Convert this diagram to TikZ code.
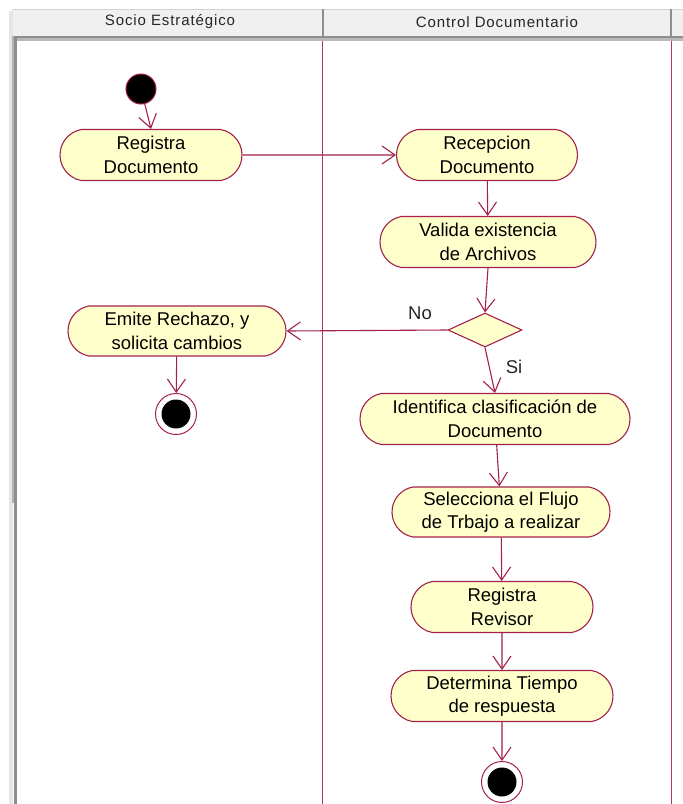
\documentclass[tikz,border=0pt]{standalone}
\usepackage{fontspec}
\setmainfont{Liberation Sans}
\usetikzlibrary{arrows.meta,shapes.geometric,shapes.misc}
\definecolor{umlline}{HTML}{A3214A}
\definecolor{laneline}{HTML}{B5336A}
\definecolor{actfill}{HTML}{FFFFCC}
\definecolor{hdrfill}{HTML}{F0F0F0}
\definecolor{hdrrule}{HTML}{8E8E8E}

\begin{document}
\begin{tikzpicture}[x=1pt,y=-1pt,
  activity/.style={rounded rectangle, rounded rectangle arc length=160,
    draw=umlline, fill=actfill, line width=1.1pt,
    align=center, inner sep=0pt,
    font=\fontsize{18.5}{23.5}\selectfont},
  decision/.style={diamond, draw=umlline, fill=actfill, line width=1.1pt,
    inner sep=0pt, minimum width=74pt, minimum height=34pt},
  startnode/.style={circle, draw=umlline, fill=black, line width=1pt,
    inner sep=0pt, minimum size=30pt},
  endnode/.style={circle, draw=umlline, fill=white, line width=1pt,
    inner sep=0pt, minimum size=41pt,
    path picture={\fill[black] (path picture bounding box.center) circle (14.5pt);}},
  flow/.style={draw=umlline, line width=1.1pt,
    -{Straight Barb[length=13pt,width=18pt]}},
  guard/.style={font=\fontsize{18.5}{22}\selectfont, text=black!85},
  lanehead/.style={font=\fontsize{15}{17}\selectfont\addfontfeature{LetterSpace=6}, text=black!85},
]
% canvas
\useasboundingbox (0,0) rectangle (683,804);
\fill[white] (0,0) rectangle (683,804);

% swimlane header
\fill[hdrfill] (12,9) rectangle (683,36);
\draw[gray!35, line width=0.8pt] (12,9.4) -- (683,9.4);
\fill[hdrrule] (12,35.5) rectangle (683,38);
\fill[gray!55] (12,38) rectangle (683,40.5);
\fill[hdrrule] (321.5,9) rectangle (323.8,36);
\fill[hdrrule] (670,9) rectangle (672.3,36);
\node[lanehead] (laneA) at (170,22) {Socio Estratégico};
\node[lanehead] (laneB) at (497,22) {Control Documentario};

% left frame
\fill[gray!20] (9,11) rectangle (12.5,804);
\fill[gray!60] (12,36) rectangle (14,503);
\fill[hdrrule] (14,36) rectangle (16.8,804);

% lane separators
\draw[laneline, line width=1.6pt] (322.6,40.5) -- (322.6,804);
\draw[laneline, line width=1.6pt] (671.4,40.5) -- (671.4,804);

% activity nodes
\node[startnode] (start) at (141,89) {};
\node[activity, minimum width=182pt, minimum height=51pt] (regdoc) at (151,155) {Registra\\Documento};
\node[activity, minimum width=181pt, minimum height=51pt] (recdoc) at (487,155) {Recepcion\\Documento};
\node[activity, minimum width=216pt, minimum height=51pt] (valida) at (488,242) {Valida existencia\\de Archivos};
\node[decision] (dec) at (485,330) {};
\node[activity, minimum width=218pt, minimum height=50pt] (emite) at (177,331) {Emite Rechazo, y\\solicita cambios};
\node[endnode] (endA) at (176,414) {};
\node[activity, minimum width=270pt, minimum height=51pt] (ident) at (495,419) {Identifica clasificación de\\Documento};
\node[activity, minimum width=218pt, minimum height=50pt] (selec) at (501,512) {Selecciona el Flujo\\de Trbajo a realizar};
\node[activity, minimum width=182pt, minimum height=51pt] (regrev) at (502,607) {Registra\\Revisor};
\node[activity, minimum width=222pt, minimum height=51pt] (determ) at (502,696) {Determina Tiempo\\de respuesta};
\node[endnode] (endB) at (502,782) {};

% guard labels
\node[guard] (gno) at (420,313) {No};
\node[guard] (gsi) at (514,367) {Si};

% control flows
\draw[flow] (start) -- (regdoc.north);
\draw[flow] (regdoc) -- (recdoc);
\draw[flow] (recdoc) -- (valida);
\draw[flow] (valida.south) -- (dec.north);
\draw[flow] (dec.west) -- (emite.east);
\draw[flow] (dec.south) -- (ident.north);
\draw[flow] (emite) -- (endA);
\draw[flow] (ident) -- (selec);
\draw[flow] (selec) -- (regrev);
\draw[flow] (regrev) -- (determ);
\draw[flow] (determ) -- (endB);
\end{tikzpicture}
\end{document}
